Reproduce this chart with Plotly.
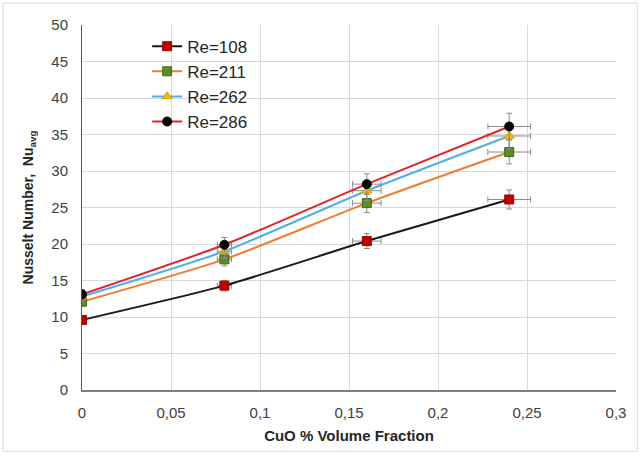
import plotly.graph_objects as go

# CuO volume fraction (%)
volume_fraction = [0, 0.08, 0.16, 0.24]

# Average Nusselt number for each Reynolds number
nu_re108 = [9.6, 14.3, 20.4, 26.1]
nu_re211 = [12.1, 17.9, 25.6, 32.6]
nu_re262 = [12.8, 19.0, 27.3, 34.8]
nu_re286 = [13.1, 19.9, 28.2, 36.1]

series_names = ["Re=108", "Re=211", "Re=262", "Re=286"]
series_values = [nu_re108, nu_re211, nu_re262, nu_re286]
line_colors = ["#1a1a1a", "#ED7D31", "#4FB0E6", "#E0262B"]
marker_colors = ["#C00000", "#5E8A2A", "#F5B800", "#000000"]
marker_lines = ["#A00000", "#3F6A18", "#E0A000", "#000000"]
marker_symbols = ["square", "square", "triangle-up", "circle"]
marker_sizes = [9, 9, 9, 9]

fig = go.Figure()
for name, vals, lc, mc, ml, sym, sz in zip(series_names, series_values, line_colors,
                                          marker_colors, marker_lines, marker_symbols, marker_sizes):
    fig.add_trace(go.Scatter(
        x=volume_fraction, y=vals, name=name,
        mode="lines+markers",
        line=dict(color=lc, width=2, shape="spline", smoothing=0.6),
        marker=dict(color=mc, symbol=sym, size=sz, line=dict(color=ml, width=1)),
        error_y=dict(type="percent", value=5, color="#8c8c8c", thickness=1, width=3),
        error_x=dict(type="percent", value=5, color="#8c8c8c", thickness=1, width=3),
    ))

fig.update_layout(
    width=642, height=457,
    margin=dict(l=82, r=26, t=25, b=67),
    paper_bgcolor="white", plot_bgcolor="white",
    separators=",.",
    font=dict(family="Liberation Sans, Arial, sans-serif", size=15, color="#404040"),
    showlegend=True,
    legend=dict(
        x=0.122, y=0.99, xanchor="left", yanchor="top",
        bgcolor="rgba(0,0,0,0)", itemwidth=30, tracegroupgap=0,
        font=dict(size=17, color="#262626"),
    ),
    shapes=[dict(type="rect", xref="paper", yref="paper", x0=-0.148, x1=1.04, y0=-0.168, y1=1.06,
                 line=dict(color="#d9d9d9", width=1))],
)

fig.update_xaxes(
    range=[0, 0.3], dtick=0.05, tickformat=",.2~f",
    showgrid=True, gridcolor="#d9d9d9", gridwidth=1,
    showline=True, linecolor="#7f7f7f", linewidth=2,
    zeroline=False, ticks="outside", ticklen=8, tickcolor="rgba(0,0,0,0)",
    tickfont=dict(size=15, color="#404040"),
    title=dict(text="<b>CuO % Volume Fraction</b>", font=dict(size=15, color="#262626"), standoff=10),
)
fig.update_yaxes(
    range=[0, 50], dtick=5,
    showgrid=True, gridcolor="#d9d9d9", gridwidth=1,
    showline=True, linecolor="#595959", linewidth=1,
    zeroline=False, ticks="outside", ticklen=10, tickcolor="rgba(0,0,0,0)",
    tickfont=dict(size=15, color="#404040"),
    title=dict(text="<b>Nusselt Number,  Nu<sub>avg</sub></b>", font=dict(size=14, color="#262626"), standoff=14),
)

fig.write_html("out.html")
